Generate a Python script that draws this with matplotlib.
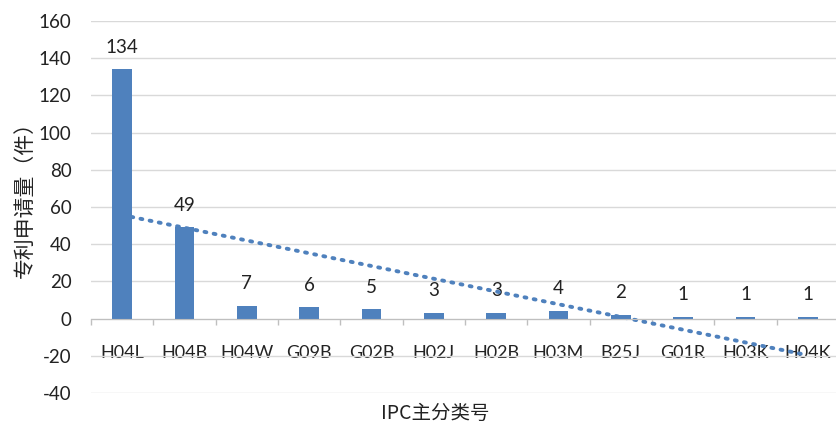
import matplotlib
matplotlib.use('Agg')
import matplotlib.pyplot as plt
import numpy as np

# IPC main classes and patent counts
categories = ['H04L', 'H04B', 'H04W', 'G09B', 'G02B', 'H02J',
              'H02B', 'H03M', 'B25J', 'G01R', 'H03K', 'H04K']
counts = [134, 49, 7, 6, 5, 3, 3, 4, 2, 1, 1, 1]
y_ticks = [-40, -20, 0, 20, 40, 60, 80, 100, 120, 140, 160]

plt.rcParams['font.family'] = ['Lato', 'Noto Sans CJK SC', 'DejaVu Sans']
plt.rcParams['axes.unicode_minus'] = False

fig = plt.figure(figsize=(8.37, 4.28), dpi=100)
ax = fig.add_axes([91 / 837, 35 / 428, 748 / 837, 372 / 428])

bar_color = '#4f81bd'
x = np.arange(len(categories))
ax.bar(x, counts, width=0.32, color=bar_color, zorder=3)

# value labels
for xi, v in zip(x, counts):
    ax.annotate(str(v), (xi, v), xytext=(0, 16), textcoords='offset points',
                ha='center', va='center', fontsize=13.5, color='#222222')

# linear trendline (Excel-style)
xs = x + 1
k, b = np.polyfit(xs, counts, 1)
ax.plot(x, k * xs + b, linestyle=(0, (0.5, 1.9)), color=bar_color,
        linewidth=2.8, dash_capstyle='round', zorder=4)

ax.set_xlim(-0.5, len(categories) - 0.5)
ax.set_ylim(-40, 160)
ax.set_yticks(y_ticks)
ax.yaxis.grid(True, color='#d9d9d9', linewidth=1.0, zorder=0)
ax.tick_params(axis='y', length=0, pad=14, labelsize=13.5, labelcolor='#222222')

for s in ['top', 'right', 'left']:
    ax.spines[s].set_visible(False)
ax.spines['bottom'].set_position(('data', 0))
ax.spines['bottom'].set_color('#bfbfbf')
ax.spines['bottom'].set_zorder(5)

ax.set_xticks(x)
ax.set_xticklabels(categories)
ax.set_xticks(np.arange(-0.5, len(categories), 1.0), minor=True)
ax.tick_params(axis='x', which='major', length=0, pad=19, labelsize=13,
               labelcolor='#222222')
ax.tick_params(axis='x', which='minor', length=4.5, color='#bfbfbf', width=1)

fig.text(25 / 837, 1 - 195 / 428, '专利申请量（件）', rotation=90, ha='center',
         va='center', fontsize=15, family=['Noto Sans CJK SC', 'DejaVu Sans'],
         color='#222222')
fig.text(435 / 837, 1 - 413 / 428, 'IPC主分类号', ha='center', va='center',
         fontsize=14, family=['Noto Sans CJK SC', 'DejaVu Sans'], color='#222222')

fig.savefig('out.png', dpi=100)
